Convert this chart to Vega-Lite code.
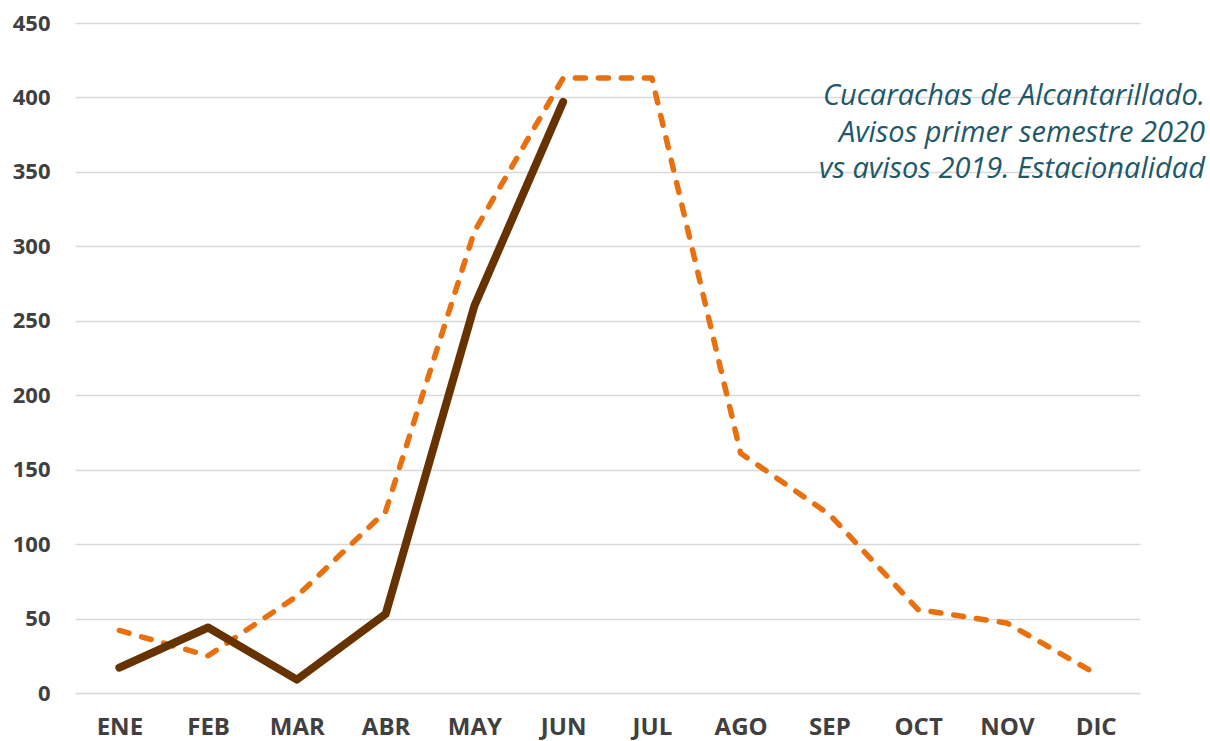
{
  "$schema": "https://vega.github.io/schema/vega-lite/v6.json",
  "width": 1065,
  "height": 670,
  "autosize": "none",
  "padding": {"left": 75, "top": 23, "right": 70, "bottom": 48},
  "background": "white",
  "config": {
    "view": {"stroke": null},
    "font": "Open Sans"
  },
  "title": {
    "text": ["Cucarachas de Alcantarillado.", "Avisos primer semestre 2020", "vs avisos 2019. Estacionalidad"],
    "anchor": "end",
    "frame": "group",
    "orient": "top",
    "baseline": "top",
    "offset": -172,
    "dx": 65,
    "font": "Open Sans",
    "fontStyle": "italic",
    "fontWeight": "normal",
    "fontSize": 29,
    "lineHeight": 36.5,
    "color": "#215868"
  },
  "data": {
    "values": [
      {"mes": "ENE", "serie": "2020", "avisos": 17},
      {"mes": "FEB", "serie": "2020", "avisos": 44},
      {"mes": "MAR", "serie": "2020", "avisos": 9},
      {"mes": "ABR", "serie": "2020", "avisos": 53},
      {"mes": "MAY", "serie": "2020", "avisos": 260},
      {"mes": "JUN", "serie": "2020", "avisos": 397},
      {"mes": "ENE", "serie": "2019", "avisos": 42},
      {"mes": "FEB", "serie": "2019", "avisos": 25},
      {"mes": "MAR", "serie": "2019", "avisos": 65},
      {"mes": "ABR", "serie": "2019", "avisos": 122},
      {"mes": "MAY", "serie": "2019", "avisos": 310},
      {"mes": "JUN", "serie": "2019", "avisos": 413},
      {"mes": "JUL", "serie": "2019", "avisos": 413},
      {"mes": "AGO", "serie": "2019", "avisos": 161},
      {"mes": "SEP", "serie": "2019", "avisos": 120},
      {"mes": "OCT", "serie": "2019", "avisos": 56},
      {"mes": "NOV", "serie": "2019", "avisos": 47},
      {"mes": "DIC", "serie": "2019", "avisos": 13}
    ]
  },
  "encoding": {
    "x": {
      "field": "mes",
      "type": "ordinal",
      "sort": ["ENE","FEB","MAR","ABR","MAY","JUN","JUL","AGO","SEP","OCT","NOV","DIC"],
      "scale": {"type": "point", "padding": 0.5, "domain": ["ENE","FEB","MAR","ABR","MAY","JUN","JUL","AGO","SEP","OCT","NOV","DIC"]},
      "axis": {
        "title": null,
        "labelAngle": 0,
        "domain": false,
        "ticks": false,
        "grid": false,
        "labelFont": "Open Sans",
        "labelFontWeight": "bold",
        "labelFontSize": 24,
        "labelColor": "#404040",
        "labelPadding": 22
      }
    },
    "y": {
      "field": "avisos",
      "type": "quantitative",
      "scale": {"domain": [0, 450], "nice": false},
      "axis": {
        "title": null,
        "values": [0,50,100,150,200,250,300,350,400,450],
        "domain": false,
        "ticks": false,
        "gridColor": "#d9d9d9",
        "gridWidth": 1.3,
        "labelFont": "Open Sans",
        "labelFontWeight": "bold",
        "labelFontSize": 22,
        "labelColor": "#404040",
        "labelPadding": 25
      }
    }
  },
  "layer": [
    {
      "transform": [{"filter": "datum.serie === '2019'"}],
      "mark": {"type": "line", "color": "#E8700E", "strokeWidth": 5.5, "strokeDash": [10, 13], "strokeCap": "round", "strokeJoin": "round"}
    },
    {
      "transform": [{"filter": "datum.serie === '2020'"}],
      "mark": {"type": "line", "color": "#663300", "strokeWidth": 8, "strokeCap": "round", "strokeJoin": "round"}
    }
  ]
}
